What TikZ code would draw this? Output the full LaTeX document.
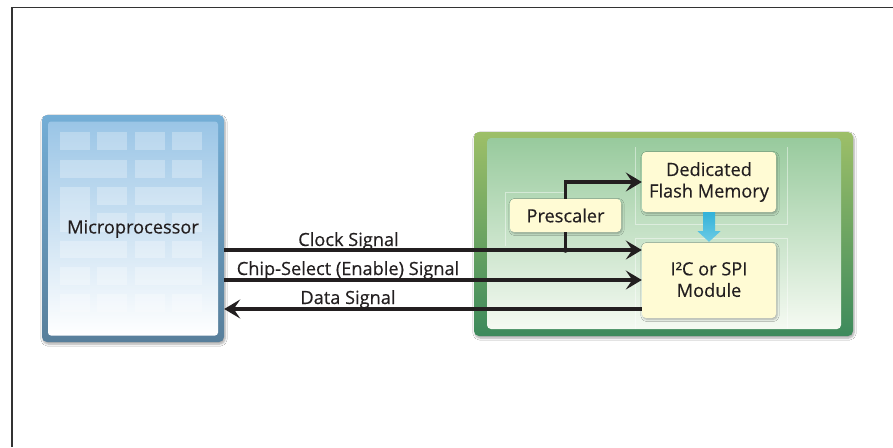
\documentclass[tikz,border=0pt]{standalone}
\usepackage{fontspec}
\setmainfont{Open Sans}
\newfontfamily\lblfont{Open Sans}[FakeBold=0.35]
\usetikzlibrary{arrows.meta,calc,shadows.blur}
\definecolor{txt}{HTML}{231F20}
\definecolor{bluetop}{HTML}{74AED6}
\definecolor{bluebot}{HTML}{587F9B}
\definecolor{bintop}{HTML}{9AC5E6}
\definecolor{binmid}{HTML}{C4DEF1}
\definecolor{gtop}{HTML}{9DBF68}
\definecolor{gbot}{HTML}{3D8A5C}
\definecolor{gintop}{HTML}{98CA9D}
\definecolor{ginmid}{HTML}{C2E1C1}
\definecolor{ginbot}{HTML}{F5FAF2}
\definecolor{cream}{HTML}{FFFBD4}
\definecolor{cyantop}{HTML}{33B2D8}
\definecolor{cyanbot}{HTML}{6CCBE6}
\begin{document}
\begin{tikzpicture}[x=1pt,y=-1pt,
  lbl/.style={font=\lblfont\fontsize{18.2}{21.5}\selectfont, text=txt, inner sep=0pt},
  mpouter/.style={rounded corners=5pt, top color=bluetop, bottom color=bluebot,
    minimum width=182pt, minimum height=227pt, inner sep=0pt,
    blur shadow={shadow blur steps=6, shadow xshift=1pt, shadow yshift=-2pt, shadow opacity=35}},
  mpinner/.style={rounded corners=3pt, top color=bintop, middle color=binmid, bottom color=white,
    minimum width=170pt, minimum height=214pt, inner sep=0pt},
  cell/.style={fill=white, fill opacity=0.28},
  gouter/.style={rounded corners=5pt, top color=gtop, bottom color=gbot,
    minimum width=379pt, minimum height=204pt, inner sep=0pt,
    blur shadow={shadow blur steps=6, shadow xshift=1pt, shadow yshift=-2pt, shadow opacity=35}},
  ginner/.style={rounded corners=4pt, top color=gintop, middle color=ginmid, bottom color=ginbot,
    minimum width=354pt, minimum height=191pt, inner sep=0pt},
  faint/.style={draw=white, draw opacity=0.45, line width=0.7pt},
  unit/.style={lbl, rounded corners=4pt, fill=cream, align=center,
    blur shadow={shadow blur steps=5, shadow xshift=1pt, shadow yshift=-1.5pt, shadow opacity=30}},
  tip/.tip={Stealth[length=16pt, width=19pt, inset=6.5pt]},
  sig/.style={line width=3.4pt, draw=txt, -tip},
  plain/.style={line width=3.4pt, draw=txt}
]
\useasboundingbox (0,0) rectangle (893,447);
\fill[white] (0,0) rectangle (893,447);
% frame
\draw[line width=1.5pt, draw=black!80] (12,447) -- (12,7.5) -- (893,7.5);

% microprocessor
\node[mpouter] (mp) at (133,228.5) {};
\node[mpinner] (mpin) at (133,228.5) {};
\begin{scope}
  % row 1
  \fill[cell] (60,132) rectangle (90,150);
  \fill[cell] (97,132) rectangle (127,150);
  \fill[cell] (135,132) rectangle (165,150);
  \fill[cell] (172,132) rectangle (202,150);
  % row 2
  \fill[cell] (60,160) rectangle (127,178);
  \fill[cell] (135,160) rectangle (165,178);
  \fill[cell] (172,160) rectangle (202,178);
  % row 3-4
  \fill[cell] (60,187) rectangle (90,232);
  \fill[cell] (97,187) rectangle (127,205);
  \fill[cell] (135,187) rectangle (202,205);
  \fill[cell] (97,213) rectangle (127,232);
  \fill[cell] (135,213) rectangle (165,232);
  \fill[cell] (172,213) rectangle (202,232);
  % row 5
  \fill[cell] (60,241) rectangle (127,258);
  \fill[cell] (135,241) rectangle (165,258);
  \fill[cell] (172,241) rectangle (202,258);
  % row 6
  \fill[cell] (60,267) rectangle (90,285);
  \fill[cell] (97,267) rectangle (127,285);
  \fill[cell] (135,267) rectangle (202,285);
  % row 7
  \fill[cell] (60,294) rectangle (90,312);
  \fill[cell] (97,294) rectangle (127,312);
  \fill[cell] (135,294) rectangle (165,312);
  \fill[cell] (172,294) rectangle (202,312);
\end{scope}
\node[lbl] (mptext) at (133,229) {Microprocessor};

% green chip
\node[gouter] (chip) at (663.5,234) {};
\node[ginner] (chipin) at (664,233.5) {};
\draw[faint] (505,246) -- (505,192) -- (566,192);
\draw[faint] (635,147) -- (635,224) -- (787,224) -- (787,147);
\draw[faint] (635,329) -- (635,238) -- (787,238) -- (787,329);

\node[unit, minimum width=111pt, minimum height=33pt] (pre) at (565.5,215.5) {Prescaler};
\node[unit, minimum width=134pt, minimum height=60pt] (flash) at (709,182) {Dedicated\\Flash Memory};
\node[unit, minimum width=134pt, minimum height=75pt] (mod) at (709,280.5) {I²C or SPI\\Module\rule[-2pt]{0pt}{2pt}};

% cyan arrow
\shade[top color=cyantop, bottom color=cyanbot]
  ($(flash.south)+(-6,0)$) -- ($(flash.south)+(-6,19)$) -- ($(flash.south)+(-11.5,19)$)
  -- ($(mod.north)+(0,-1)$) -- ($(flash.south)+(11.5,19)$) -- ($(flash.south)+(6,19)$)
  -- ($(flash.south)+(6,0)$) -- cycle;

% signal lines
\coordinate (yclk) at (0,250);
\coordinate (ycs) at (0,280);
\coordinate (ydat) at (0,309);
\draw[sig] (mp.east |- yclk) -- (mod.west |- yclk);
\draw[sig] (mp.east |- ycs) -- (mod.west |- ycs);
\draw[plain, tip-] (mp.east |- ydat) -- (mod.west |- ydat);
\node[lbl, anchor=base] (lclk) at (348.5,246) {Clock Signal};
\node[lbl, anchor=base] (lcs) at (348,275) {Chip-Select (Enable) Signal};
\node[lbl, anchor=base] (ldat) at (348,304) {Data Signal};

% prescaler branch
\coordinate (dot) at (pre.south |- yclk);
\draw[plain] (pre.south) -- (dot);
\fill[txt] (dot) circle (2.8);
\coordinate (yfl) at (0,182);
\draw[sig] (pre.north) -- (pre.north |- yfl) -- (flash.west);
\end{tikzpicture}
\end{document}
